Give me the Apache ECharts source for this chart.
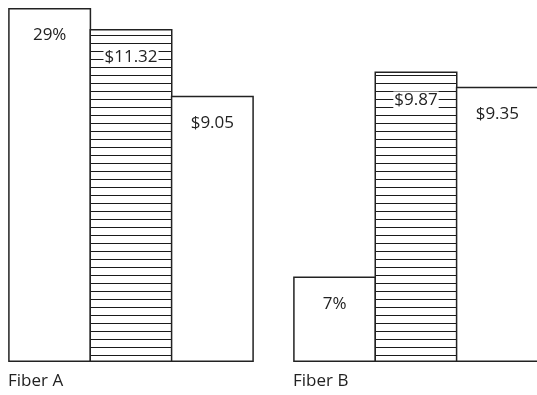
<!DOCTYPE html>
<html>
<head>
<meta charset="utf-8">
<script src="https://cdn.jsdelivr.net/npm/echarts@6/dist/echarts.min.js"></script>
<style>
  html, body { margin: 0; padding: 0; background: #fff; }
  #chart { width: 537px; height: 395px; }
</style>
</head>
<body>
<div id="chart"></div>
<script>
// Fibers compared on share and two price figures
var categories = ['Fiber A', 'Fiber B'];
var shareValues = [29, 7];          // percent
var priceValuesA = [11.32, 9.87];   // dollars, hatched bars
var priceValuesB = [9.05, 9.35];    // dollars, plain bars

var FONT = '"Open Sans", "Noto Sans", sans-serif';
var BAR_W = 83;
var BAR_GAP = '-2%';   // lets neighbouring borders overlap into one line

// Horizontal hatching tile for the middle bars
function hatchPattern() {
  var c = document.createElement('canvas');
  c.width = 4; c.height = 8;
  var ctx = c.getContext('2d');
  ctx.fillStyle = '#ffffff';
  ctx.fillRect(0, 0, 4, 8);
  ctx.fillStyle = '#1a1a1a';
  ctx.fillRect(0, 3, 4, 1);
  return c;
}

var labelStyle = {
  show: true,
  position: 'insideTop',
  distance: 19,
  color: '#222',
  fontFamily: FONT,
  fontSize: 17
};

var chart = echarts.init(document.getElementById('chart'), null, { renderer: 'canvas' });

var option = {
  animation: false,
  backgroundColor: '#ffffff',
  grid: {
    left: -11.5, right: -21.5, top: 8, bottom: 33,
    containLabel: false,
    outerBoundsMode: 'none'
  },
  xAxis: {
    type: 'category',
    data: categories,
    axisLine: { show: false },
    axisTick: { show: false },
    axisLabel: { show: false },
    splitLine: { show: false }
  },
  yAxis: [
    { type: 'value', min: 0, max: 29, show: false },
    { type: 'value', min: 0, max: 12.03, show: false }
  ],
  series: [
    {
      name: 'Share',
      type: 'bar',
      yAxisIndex: 0,
      data: shareValues,
      barWidth: BAR_W,
      barGap: BAR_GAP,
      itemStyle: { color: '#ffffff', borderColor: '#222', borderWidth: 1.5 },
      label: Object.assign({}, labelStyle, { formatter: function (p) { return p.value + '%'; } })
    },
    {
      name: 'Price 1',
      type: 'bar',
      yAxisIndex: 1,
      data: priceValuesA,
      barWidth: BAR_W,
      barGap: BAR_GAP,
      itemStyle: {
        color: { image: hatchPattern(), repeat: 'repeat' },
        borderColor: '#222',
        borderWidth: 1.5
      },
      label: Object.assign({}, labelStyle, {
        distance: 20,
        backgroundColor: '#ffffff',
        padding: [0, 1, 0, 1],
        formatter: function (p) { return '$' + p.value.toFixed(2); }
      })
    },
    {
      name: 'Price 2',
      type: 'bar',
      yAxisIndex: 1,
      data: priceValuesB,
      barWidth: BAR_W,
      barGap: BAR_GAP,
      itemStyle: { color: '#ffffff', borderColor: '#222', borderWidth: 1.5 },
      label: Object.assign({}, labelStyle, { formatter: function (p) { return '$' + p.value.toFixed(2); } })
    }
  ]
};

chart.setOption(option);

// Category names sit left-aligned under each group of bars
var groupHalf = 123;
var texts = categories.map(function (name) {
  var cx = chart.convertToPixel({ xAxisIndex: 0 }, name);
  return {
    type: 'text',
    left: cx - groupHalf,
    top: 373,
    style: { text: name, fill: '#222', font: '17px ' + FONT }
  };
});
chart.setOption({ graphic: texts });
</script>
</body>
</html>
